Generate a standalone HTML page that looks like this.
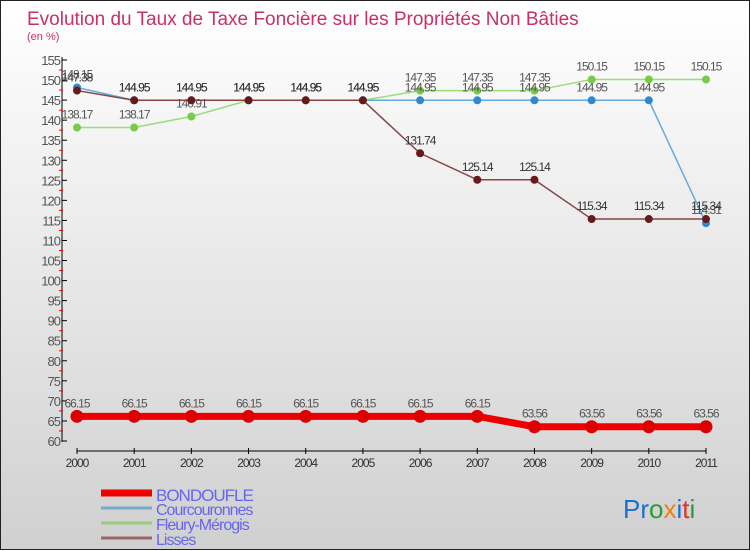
<!DOCTYPE html>
<html><head><meta charset="utf-8"><style>
body{margin:0;width:750px;height:550px;overflow:hidden}
#wrap{position:relative;width:748px;height:548px;border:1px solid #222;background:linear-gradient(#ffffff,#d0d0d0);font-family:"Liberation Sans",sans-serif}
svg{position:absolute;left:0;top:0}
</style></head><body>
<div id="wrap">
<svg id="chart" width="750" height="550">
<text x="26" y="24" font-size="19" fill="#c8306a">Evolution du Taux de Taxe Foncière sur les Propriétés Non Bâties</text>
<text x="26" y="39" font-size="11" fill="#c8306a">(en %)</text>
<text x="622" y="517" font-size="26"><tspan fill="#1a6fd0">Pr</tspan><tspan fill="#2a9a3a">o</tspan><tspan fill="#f08010">x</tspan><tspan fill="#1a6fd0">i</tspan><tspan fill="#e03020">t</tspan><tspan fill="#2a9a3a">i</tspan></text>
</svg>
</div>
<script>
const years=["2000","2001","2002","2003","2004","2005","2006","2007","2008","2009","2010","2011"];
const yTicks=[60,65,70,75,80,85,90,95,100,105,110,115,120,125,130,135,140,145,150,155];
const bondoufle=[66.15,66.15,66.15,66.15,66.15,66.15,66.15,66.15,63.56,63.56,63.56,63.56];
const courcouronnes=[148.15,144.95,144.95,144.95,144.95,144.95,144.95,144.95,144.95,144.95,144.95,114.31];
const fleury=[138.17,138.17,140.91,144.95,144.95,144.95,147.35,147.35,147.35,150.15,150.15,150.15];
const lisses=[147.38,144.95,144.95,144.95,144.95,144.95,131.74,125.14,125.14,115.34,115.34,115.34];
const seriesNames=["BONDOUFLE","Courcouronnes","Fleury-Mérogis","Lisses"];
const svg=document.getElementById('chart');const NS="http://www.w3.org/2000/svg";
function mk(t,a,p){const e=document.createElementNS(NS,t);for(const k in a)e.setAttribute(k,a[k]);(p||svg).appendChild(e);return e;}
const y=v=>440-(v-60)*(381/95);
const x=i=>76+i*(629/(years.length-1));
let ax=mk('line',{x1:61,y1:56,x2:61,y2:441,stroke:'#000'});


yTicks.forEach((v,i)=>{
 let t=mk('line',{x1:61,y1:y(v),x2:66,y2:y(v),stroke:'#000'});
 
 
 if(i<yTicks.length-1){let m=mk('line',{x1:58,y1:y(v+2.5),x2:62,y2:y(v+2.5),stroke:'#e00'});
 
 }
 let l=mk('text',{x:59,y:y(v)+5,'text-anchor':'end','font-size':13,fill:'#555','letter-spacing':'-1'});l.textContent=v;
 
 
});
let xa=mk('line',{x1:76,y1:450,x2:705,y2:450,stroke:'#000'});


years.forEach((yr,i)=>{
 let t=mk('line',{x1:x(i),y1:447,x2:x(i),y2:453,stroke:'#000'});
 
 
 let l=mk('text',{x:x(i),y:466,'text-anchor':'middle','font-size':12,fill:'#333','letter-spacing':'-1'});l.textContent=yr;
 
 
});
function series(data,color,w,r,dot,name,labColor){
 const g=mk('g',{});
 
 
 let p=mk('polyline',{points:data.map((v,i)=>x(i)+','+y(v)).join(' '),fill:'none',stroke:color,'stroke-width':w},g);
 
 
 data.forEach((v,i)=>{
  let c=mk('circle',{cx:x(i),cy:y(v),r:r,fill:dot},g);
  
  
  let l=mk('text',{x:x(i),y:y(v)-9,'text-anchor':'middle','font-size':12,fill:labColor,'letter-spacing':'-1'},g);
  l.textContent=String(v);
  
  
 });
}
series(fleury,'#99dd77',1.5,4,'#77cc44','fleury-merogis','#555');
series(courcouronnes,'#66aadd',1.5,4,'#3388cc','courcouronnes','#555');
series(lisses,'#884444',1.5,4,'#661a1a','lisses','#333');
series(bondoufle,'#ee0000',7,6.5,'#dd0000','bondoufle','#555');
const legCols=['#ee0000','#77aacc','#99cc77','#996666'];const legW=[7,3,3,3];
seriesNames.forEach((n,i)=>{
 const yy=i==0?492:507+(i-1)*15;
 let s=mk('line',{x1:100,y1:yy,x2:151,y2:yy,stroke:legCols[i],'stroke-width':legW[i]});
 
 
 let t=mk('text',{x:155,y:yy+(i==0?8:7),'font-size':i==0?17:16,fill:'#6666ee','letter-spacing':'-1'});t.textContent=n;
 
 
});
</script>
</body></html>
